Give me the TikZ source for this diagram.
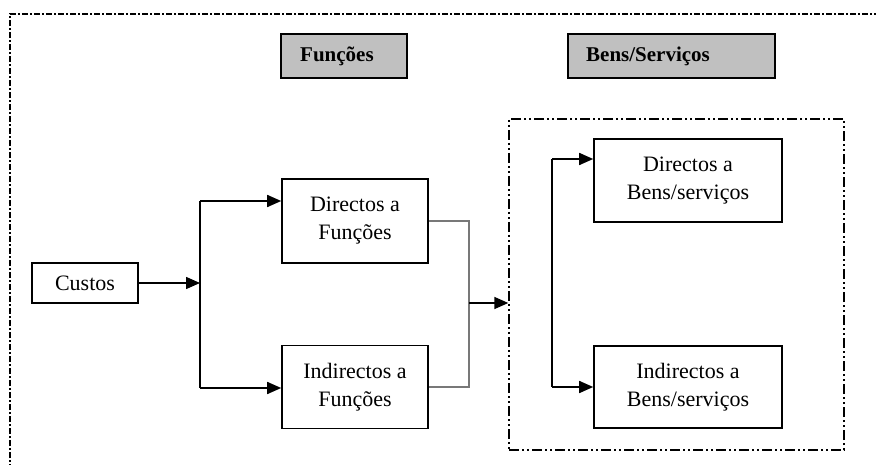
\documentclass[tikz,border=0pt]{standalone}
\usepackage{fontspec}
\setmainfont{Liberation Serif}
\usetikzlibrary{arrows.meta}
\definecolor{titlegray}{RGB}{192,192,192}
\definecolor{linkgray}{RGB}{120,120,120}
\tikzset{
  box/.style={draw=black, line width=1.6pt, align=center, inner sep=0pt,
    font=\fontsize{22}{28}\selectfont},
  titlebox/.style={draw=black, line width=1.6pt, fill=titlegray, inner sep=0pt},
  titletext/.style={anchor=west, inner sep=0pt, font=\bfseries\fontsize{21}{26}\selectfont},
  conn/.style={line width=1.6pt, draw=black},
  arr/.style={conn, -{Triangle[length=14pt,width=12pt]}},
  graylink/.style={line width=1.6pt, draw=linkgray},
  outerframe/.style={line width=1.2pt, dash pattern=on 6pt off 2pt on 2pt off 2pt},
  innerframe/.style={draw, line width=1.4pt, dash pattern=on 10pt off 3pt on 2pt off 3pt on 2pt off 3pt}
}
\begin{document}
\begin{tikzpicture}[x=1pt,y=-1pt]
\useasboundingbox (0,0) rectangle (876,465);
% outer frame
\coordinate (o1) at (10,470);
\coordinate (o2) at (10,14);
\coordinate (o3) at (880,14);
\draw[outerframe] (o1) -- (o2) -- (o3);
% titles
\node[titlebox, minimum width=126pt, minimum height=44pt] (tf) at (344,56) {};
\node[titletext] (tft) at (300,56) {Funções};
\node[titlebox, minimum width=207pt, minimum height=44pt] (tb) at (671.5,56) {};
\node[titletext] (tbt) at (586,56) {Bens/Serviços};
% inner group frame
\node[innerframe, minimum width=335pt, minimum height=331pt] (grp) at (676.5,284.5) {};
% boxes
\node[box, minimum width=106pt, minimum height=40pt] (custos) at (85,283) {Custos};
\node[box, minimum width=146pt, minimum height=84pt] (df) at (355,221) {Directos a\\Funções};
\node[box, minimum width=146pt, minimum height=83pt] (if) at (355,387) {Indirectos a\\Funções};
\node[box, minimum width=188pt, minimum height=83pt] (db) at (688,180.5) {Directos a\\Bens/serviços};
\node[box, minimum width=188pt, minimum height=82pt] (ib) at (688,387) {Indirectos a\\Bens/serviços};
% left connectors
\coordinate (j1) at (200,283);
\coordinate (ja) at (200,201);
\coordinate (jb) at (200,388);
\draw[arr] (custos.east) -- (j1);
\draw[conn] (ja) -- (jb);
\draw[arr] (ja) -- (ja -| df.west);
\draw[arr] (jb) -- (jb -| if.west);
% middle connectors
\coordinate (km) at (469,303);
\draw[graylink] (df.east) -| (km) |- (if.east);
\draw[arr] (km) -- (km -| grp.west);
% right connectors
\coordinate (ka) at (552,159);
\coordinate (kb) at (552,387);
\draw[conn] (ka) -- (kb);
\draw[arr] (ka) -- (ka -| db.west);
\draw[arr] (kb) -- (kb -| ib.west);
\end{tikzpicture}
\end{document}
